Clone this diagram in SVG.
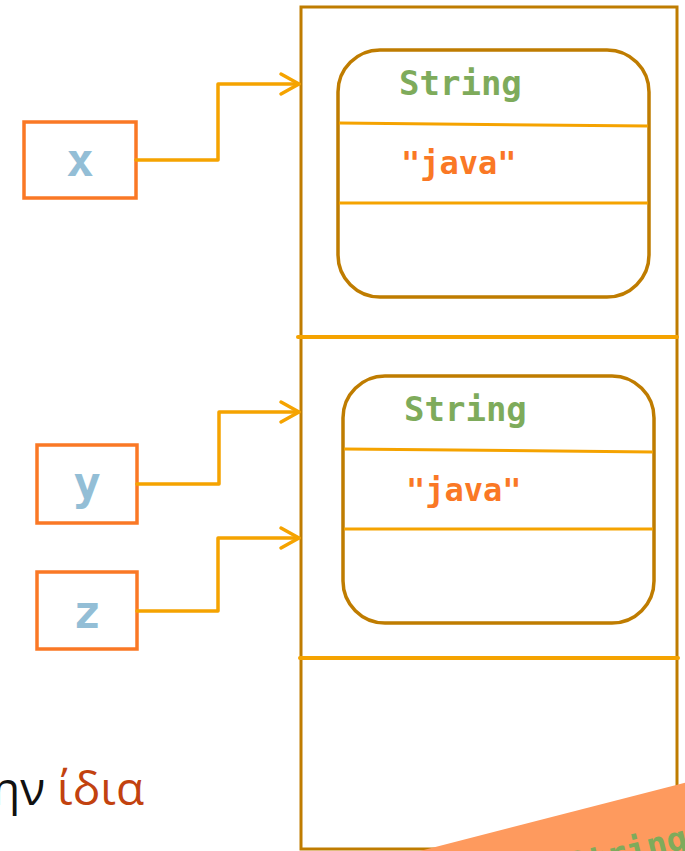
<svg xmlns="http://www.w3.org/2000/svg" width="685" height="851" viewBox="0 0 685 851">
  <style>
    .frame { fill: none; stroke: #BF7C00; stroke-width: 3; }
    .divider { stroke: #F5A300; stroke-width: 4; stroke-linecap: round; }
    .obj { fill: #FFFFFF; stroke: #BF7C00; stroke-width: 3.5; }
    .field { stroke: #F5A300; stroke-width: 3; fill: none; }
    .var { fill: #FFFFFF; stroke: #FA7825; stroke-width: 3.5; }
    .varname { font-family: "DejaVu Sans Mono", "Liberation Mono", monospace; font-weight: bold; font-size: 46px; fill: #93BED6; text-anchor: middle; }
    .type { font-family: "DejaVu Sans Mono", "Liberation Mono", monospace; font-weight: bold; font-size: 34px; fill: #7EAB5B; }
    .value { font-family: "DejaVu Sans Mono", "Liberation Mono", monospace; font-weight: bold; font-size: 32px; fill: #FA7825; }
    .link { fill: none; stroke: #F5A300; stroke-width: 3.5; stroke-linejoin: round; stroke-linecap: round; }
    .caption { font-family: "Open Sans", "Noto Sans", "DejaVu Sans", sans-serif; font-size: 46px; }
  </style>

  <!-- heap frame -->
  <g id="heap">
    <rect class="frame" x="301" y="7" width="376" height="842"/>
    <line class="divider" x1="298" y1="337" x2="677" y2="337"/>
    <line class="divider" x1="300" y1="658" x2="678" y2="658"/>
  </g>

  <!-- first String object -->
  <g id="obj1">
    <rect class="obj" x="338" y="50" width="311" height="247" rx="42" ry="42"/>
    <line class="field" x1="339" y1="123" x2="648" y2="126"/>
    <line class="field" x1="339" y1="203" x2="648" y2="203"/>
    <text class="type" x="399" y="95">String</text>
    <text class="value" x="401" y="174">"java"</text>
  </g>

  <!-- second String object -->
  <g id="obj2">
    <rect class="obj" x="343" y="376" width="311" height="247" rx="42" ry="42"/>
    <line class="field" x1="344" y1="449" x2="653" y2="452"/>
    <line class="field" x1="344" y1="529" x2="653" y2="529"/>
    <text class="type" x="404" y="421">String</text>
    <text class="value" x="406" y="501">"java"</text>
  </g>

  <!-- reference variables -->
  <g id="var-x">
    <rect class="var" x="24" y="122" width="112" height="76"/>
    <text class="varname" x="80" y="176">x</text>
  </g>
  <g id="var-y">
    <rect class="var" x="37" y="445" width="100" height="78"/>
    <text class="varname" x="87" y="499">y</text>
  </g>
  <g id="var-z">
    <rect class="var" x="37" y="572" width="100" height="77"/>
    <text class="varname" x="87" y="628">z</text>
  </g>

  <!-- references -->
  <g id="connectors">
    <polyline class="link" points="136,160 218,160 218,84 299,84"/>
    <polyline class="link" points="281,74 299,84 281,94"/>
    <polyline class="link" points="137,484 219,484 219,412 299,412"/>
    <polyline class="link" points="281,402 299,412 281,422"/>
    <polyline class="link" points="137,611 218,611 218,538 299,538"/>
    <polyline class="link" points="281,528 299,538 281,548"/>
  </g>

  <!-- caption -->
  <text class="caption" x="144" y="805" text-anchor="end"><tspan fill="#111111">ην </tspan><tspan fill="#C2420F">ίδια</tspan></text>

  <!-- overlapping card in the corner -->
  <g id="card">
    <polygon points="416,852 700,779 730,900 420,900" fill="#FE9A5E"/>
    <text x="570" y="878" transform="rotate(-14 570 878)" font-family="DejaVu Sans Mono, monospace" font-weight="bold" font-size="34" fill="#7EAB5B">String</text>
  </g>
</svg>
